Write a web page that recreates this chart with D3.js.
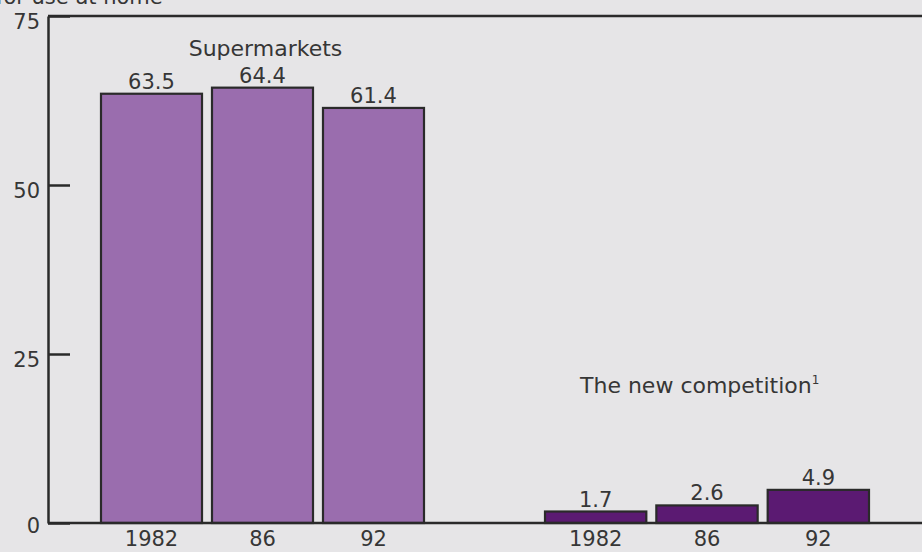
<!DOCTYPE html>
<html>
<head>
<meta charset="utf-8">
<script src="https://cdn.jsdelivr.net/npm/d3@7"></script>
<style>
  html, body { margin: 0; padding: 0; background: #e6e5e7; overflow: hidden; }
  svg { display: block; }
  text { font-family: "DejaVu Sans", sans-serif; fill: #363636; }
</style>
</head>
<body>
<svg id="chart" width="922" height="552"></svg>
<script>
// Share of food-at-home sales, percent
const years = ["1982", "86", "92"];
const supermarkets = [63.5, 64.4, 61.4];
const newCompetition = [1.7, 2.6, 4.9];
const yTicks = [0, 25, 50, 75];
const groupTitles = ["Supermarkets", "The new competition"];

const W = 922, H = 552;
const svg = d3.select("#chart");
const plotLeft = 48, plotTop = 16, plotBottom = 523;

const y = d3.scaleLinear().domain([0, 75]).range([plotBottom, plotTop]);
const xA = d3.scaleBand().domain(years).range([101, 424]).paddingInner(0.09).paddingOuter(0);
const xB = d3.scaleBand().domain(years).range([545, 869]).paddingInner(0.09).paddingOuter(0);

const ink = "#2a2a2a";

// unit line, running off the top edge
svg.append("text").attr("x", -4).attr("y", 4)
  .style("font-size", "21px").text("for use at home");

// bars with value and year labels
function drawGroup(xs, values, fill) {
  const g = svg.append("g");
  const data = years.map((yr, i) => ({ yr, v: values[i] }));
  g.selectAll("rect").data(data).join("rect")
    .attr("x", d => xs(d.yr))
    .attr("y", d => y(d.v))
    .attr("width", xs.bandwidth())
    .attr("height", d => y(0) - y(d.v))
    .attr("fill", fill)
    .attr("stroke", ink)
    .attr("stroke-width", 2.2);
  g.selectAll("text.val").data(data).join("text")
    .attr("class", "val")
    .attr("x", d => xs(d.yr) + xs.bandwidth() / 2)
    .attr("y", d => y(d.v) - 5)
    .attr("text-anchor", "middle")
    .style("font-size", "21px")
    .text(d => d.v.toFixed(1));
  g.selectAll("text.yr").data(data).join("text")
    .attr("class", "yr")
    .attr("x", d => xs(d.yr) + xs.bandwidth() / 2)
    .attr("y", 546)
    .attr("text-anchor", "middle")
    .style("font-size", "21px")
    .text(d => d.yr);
}
drawGroup(xA, supermarkets, "#9a6dae");
drawGroup(xB, newCompetition, "#5b1a72");

// frame: top edge and baseline
svg.append("line").attr("x1", plotLeft).attr("x2", W).attr("y1", plotTop).attr("y2", plotTop)
  .attr("stroke", ink).attr("stroke-width", 2.5);
svg.append("line").attr("x1", plotLeft).attr("x2", W).attr("y1", plotBottom).attr("y2", plotBottom)
  .attr("stroke", ink).attr("stroke-width", 2.5);

// y axis with inward ticks
const yAxis = d3.axisLeft(y).tickValues(yTicks).tickSizeInner(-22).tickSizeOuter(0).tickPadding(8);
const ag = svg.append("g").attr("transform", `translate(${plotLeft},0)`).call(yAxis);
ag.select(".domain").attr("stroke", ink).attr("stroke-width", 2.5);
ag.selectAll(".tick line").attr("stroke", ink).attr("stroke-width", 2.5);
ag.selectAll(".tick text").style("font-size", "21px").style("font-family", "DejaVu Sans, sans-serif")
  .attr("fill", "#363636").attr("dy", d => d === 0 ? "0.45em" : "0.58em");

// group titles
svg.append("text").attr("x", (xA.range()[0] + xA.range()[1]) / 2 + 3).attr("y", 56)
  .attr("text-anchor", "middle").style("font-size", "22px").text(groupTitles[0]);
const t2 = svg.append("text").attr("x", 580).attr("y", 393).style("font-size", "22px");
t2.append("tspan").text(groupTitles[1]);
t2.append("tspan").attr("dy", -9).style("font-size", "12px").text("1");
</script>
</body>
</html>
